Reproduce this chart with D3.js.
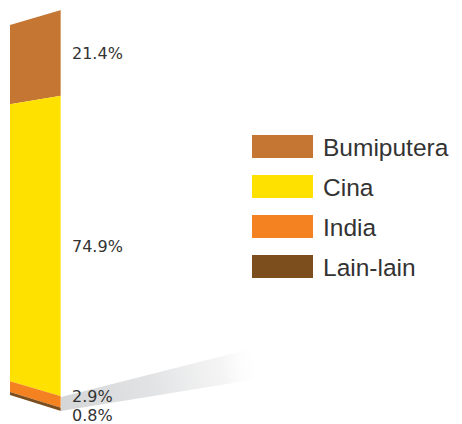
<!DOCTYPE html>
<html>
<head>
<meta charset="utf-8">
<script src="https://cdn.jsdelivr.net/npm/d3@7"></script>
<style>
  html, body { margin: 0; padding: 0; background: #ffffff; }
  svg { display: block; }
</style>
</head>
<body>
<svg id="chart" width="462" height="424"></svg>
<script>
// Population share by ethnic group (percent)
const categories = ["Bumiputera", "Cina", "India", "Lain-lain"];
const shares = [21.4, 74.9, 2.9, 0.8];
const valueLabels = ["21.4%", "74.9%", "2.9%", "0.8%"];
const colors = ["#c47632", "#ffe100", "#f58220", "#7c4e1d"];

const svg = d3.select("#chart");

// Bar drawn in perspective: the left edge is shorter than the right edge.
const xLeft = 10, xRight = 61;
const yLeft = d3.scaleLinear().domain([0, 100]).range([25, 395]);
const yRight = d3.scaleLinear().domain([0, 100]).range([10, 411]);

// cumulative stacking
let acc = 0;
const segs = shares.map((v, i) => {
  const s = { key: categories[i], v, c0: acc, c1: acc + v, color: colors[i], label: valueLabels[i] };
  acc += v;
  return s;
});

const defs = svg.append("defs");
const grad = defs.append("linearGradient")
  .attr("id", "floorShadow")
  .attr("gradientUnits", "userSpaceOnUse")
  .attr("x1", 61).attr("y1", 395).attr("x2", 262).attr("y2", 360);
grad.append("stop").attr("offset", 0).attr("stop-color", "#d5d6d8").attr("stop-opacity", 1);
grad.append("stop").attr("offset", 0.45).attr("stop-color", "#e2e3e4").attr("stop-opacity", 1);
grad.append("stop").attr("offset", 0.8).attr("stop-color", "#f2f2f3").attr("stop-opacity", 0.8);
grad.append("stop").attr("offset", 1).attr("stop-color", "#ffffff").attr("stop-opacity", 0);

// floor shadow cast to the right of the bar
const shadowPts = [
  [xRight, yRight(96.5)],
  [270, 344],
  [270, 377],
  [xRight, yRight(100)]
];
svg.append("path")
  .attr("d", d3.line()(shadowPts) + "Z")
  .attr("fill", "url(#floorShadow)");

// stacked perspective segments
svg.append("g").selectAll("path")
  .data(segs)
  .join("path")
  .attr("d", d => d3.line()([
    [xLeft, yLeft(d.c0)],
    [xRight, yRight(d.c0)],
    [xRight, yRight(d.c1)],
    [xLeft, yLeft(d.c1)]
  ]) + "Z")
  .attr("fill", d => d.color);

// thin highlight on the front-right edge
svg.append("line")
  .attr("x1", xRight - 0.5).attr("x2", xRight - 0.5)
  .attr("y1", yRight(0)).attr("y2", yRight(100))
  .attr("stroke", "#ffffff").attr("stroke-opacity", 0.35).attr("stroke-width", 1);

// value labels at the right of each segment, spread apart when crowded
const valueFont = "'DejaVu Sans', sans-serif";
const legendFont = "'Liberation Sans', Arial, sans-serif";
const minGap = 19;
const labelPos = segs.map(d => ({ d, y: yRight((d.c0 + d.c1) / 2) + 6 }));
// resolve overlaps by spreading clusters around their mean
let moved = true, guard = 0;
while (moved && guard++ < 50) {
  moved = false;
  for (let i = 1; i < labelPos.length; i++) {
    const a = labelPos[i - 1], b = labelPos[i];
    if (b.y - a.y < minGap - 0.01) {
      const mid = (a.y + b.y) / 2;
      a.y = mid - minGap / 2;
      b.y = mid + minGap / 2;
      moved = true;
    }
  }
}
svg.append("g").selectAll("text")
  .data(labelPos)
  .join("text")
  .attr("x", 72)
  .attr("y", p => p.y)
  .attr("font-family", valueFont)
  .attr("font-size", 16)
  .attr("fill", "#333333")
  .text(p => p.d.label);

// legend
const legendY = d3.scaleBand().domain(categories).range([135, 295]).paddingInner(0);
const legend = svg.append("g");
const items = legend.selectAll("g")
  .data(segs)
  .join("g")
  .attr("transform", d => `translate(252,${legendY(d.key)})`);
items.append("rect")
  .attr("width", 61).attr("height", 23)
  .attr("fill", d => d.color);
items.append("text")
  .attr("x", 71).attr("y", 21)
  .attr("font-family", legendFont)
  .attr("font-size", 24.5)
  .attr("fill", "#333333")
  .text(d => d.key);
</script>
</body>
</html>
